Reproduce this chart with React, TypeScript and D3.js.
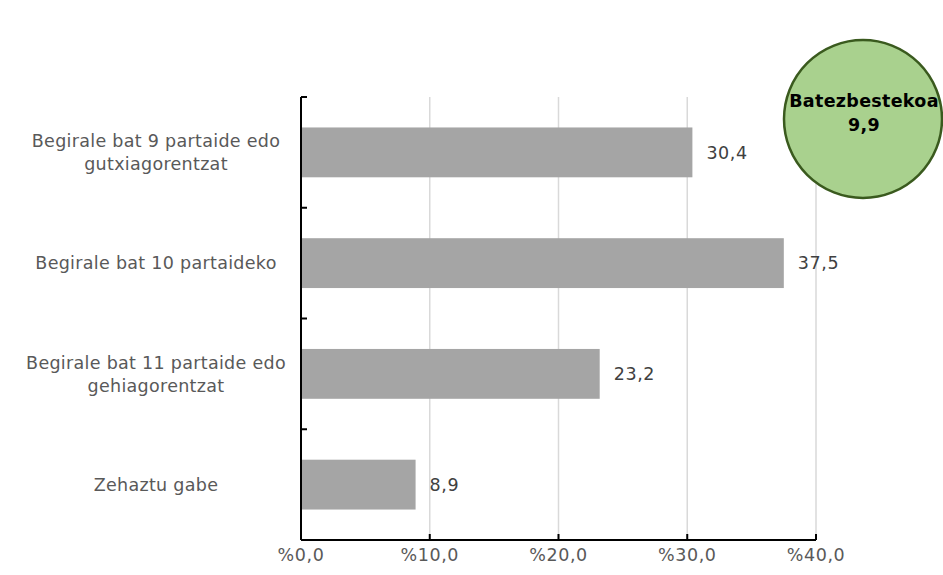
import React from "react";
import * as d3 from "d3";

const categories = [
  ["Begirale bat 9 partaide edo", "gutxiagorentzat"],
  ["Begirale bat 10 partaideko"],
  ["Begirale bat 11 partaide edo", "gehiagorentzat"],
  ["Zehaztu gabe"],
];
const values = [30.4, 37.5, 23.2, 8.9];
const xTicks = [0, 10, 20, 30, 40];
const averageLabel = "Batezbestekoa";
const averageValue = 9.9;

const fmt = (v: number) => v.toFixed(1).replace(".", ",");

export default function App() {
  const W = 943, H = 575;
  const left = 301, right = 816, top = 97, bottom = 540;
  const x = d3.scaleLinear().domain([0, 40]).range([left, right]);
  const y = d3.scaleBand<number>().domain(categories.map((_, i) => i)).range([top, bottom]).paddingInner(0.55).paddingOuter(0.275);
  const bandStep = (bottom - top) / categories.length;
  const font = "'DejaVu Sans', Verdana, sans-serif";
  const fs = 17.5;
  return (
    <svg width={W} height={H} style={{ position: "absolute", left: 0, top: 0 }} fontFamily={font}>
      {xTicks.slice(1).map((t) => (
        <line key={t} x1={x(t)} x2={x(t)} y1={top} y2={bottom} stroke="#d9d9d9" strokeWidth={1.5} />
      ))}
      {values.map((v, i) => (
        <rect key={i} x={x(0)} y={y(i)!} width={x(v) - x(0)} height={y.bandwidth()} fill="#a5a5a5" />
      ))}
      {values.map((v, i) => (
        <text key={i} x={x(v) + 14} y={y(i)! + y.bandwidth() / 2} dy="0.35em" fontSize={fs} letterSpacing={0.6} fill="#404040">
          {fmt(v)}
        </text>
      ))}
      <line x1={left} x2={left} y1={top} y2={bottom} stroke="#000" strokeWidth={2} />
      <line x1={left} x2={right} y1={bottom} y2={bottom} stroke="#000" strokeWidth={2} />
      {d3.range(categories.length + 1).map((i) => (
        <line key={i} x1={left} x2={left + 6} y1={top + i * bandStep} y2={top + i * bandStep} stroke="#000" strokeWidth={2} />
      ))}
      {xTicks.map((t) => (
        <g key={t}>
          <line x1={x(t)} x2={x(t)} y1={bottom} y2={bottom - 6} stroke="#000" strokeWidth={2} />
          <text x={x(t)} y={bottom + 15} dy="0.35em" textAnchor="middle" fontSize={fs} letterSpacing={0.6} fill="#595959">
            {"%" + fmt(t)}
          </text>
        </g>
      ))}
      {categories.map((lines, i) => {
        const cy = y(i)! + y.bandwidth() / 2;
        const lh = 23;
        const start = cy - ((lines.length - 1) * lh) / 2;
        return (
          <text key={i} textAnchor="middle" fontSize={fs} letterSpacing={0.3} fill="#595959">
            {lines.map((l, j) => (
              <tspan key={j} x={156} y={start + j * lh} dy="0.35em">{l}</tspan>
            ))}
          </text>
        );
      })}
      <circle cx={863} cy={119} r={79} fill="#a9d18e" stroke="#3a5a1e" strokeWidth={2.5} />
      <text x={864} y={101} textAnchor="middle" dy="0.35em" fontSize={17.5} fontWeight="bold" letterSpacing={0.3} fill="#000">{averageLabel}</text>
      <text x={864} y={125} textAnchor="middle" dy="0.35em" fontSize={17.5} fontWeight="bold" letterSpacing={0.3} fill="#000">{fmt(averageValue)}</text>
    </svg>
  );
}
